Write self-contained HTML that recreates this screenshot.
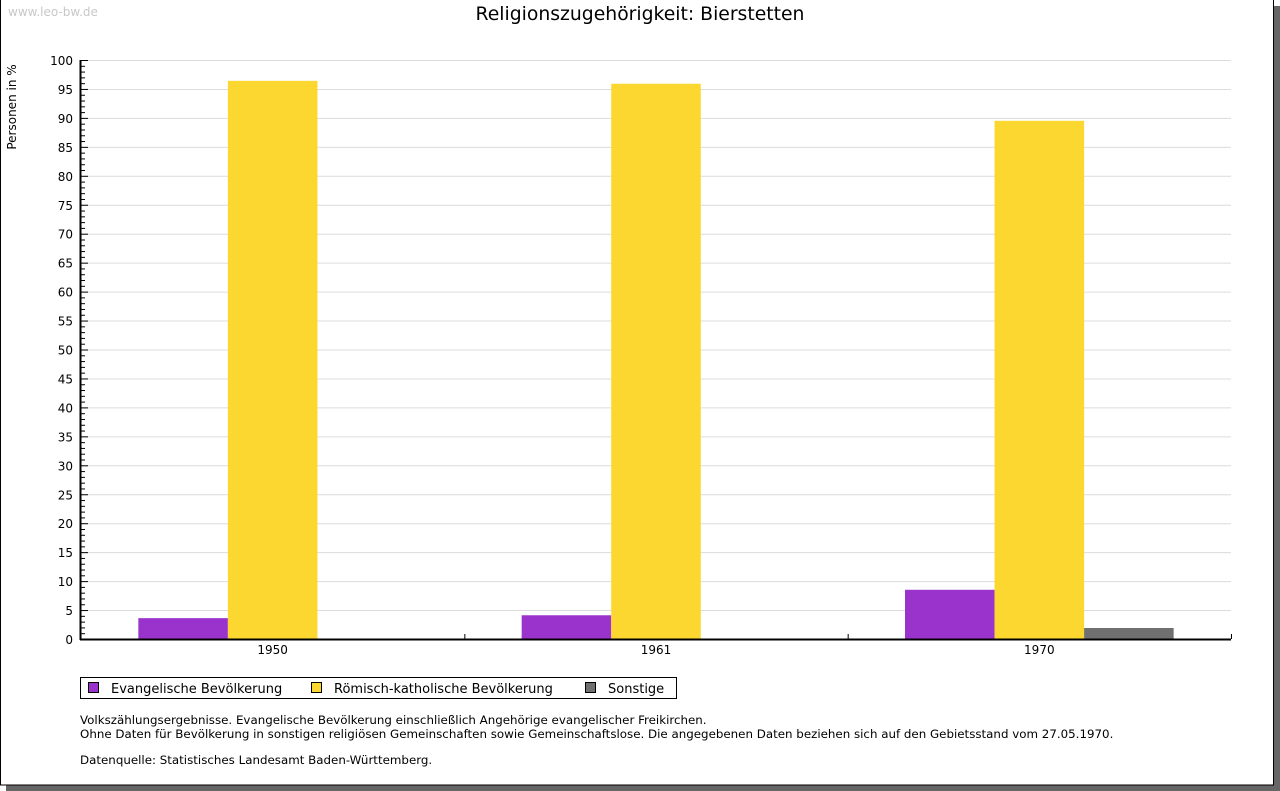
<!DOCTYPE html>
<html><head><meta charset="utf-8"><style>
body{margin:0;background:#fff;font-family:"Liberation Sans","DejaVu Sans",sans-serif;}
#wrap{position:relative;width:1280px;height:791px;overflow:hidden;background:#fff}
</style></head><body>
<div id="wrap">
<svg id="svg" width="1280" height="791" xmlns="http://www.w3.org/2000/svg" font-family="DejaVu Sans, Liberation Sans, sans-serif">
<rect x="6" y="6" width="1274" height="785" fill="#666"/>
<rect x="0.5" y="-1" width="1273" height="786" fill="#fff" stroke="#000"/>
<text x="8" y="16" font-size="12" fill="#c8c8c8">www.leo-bw.de</text>
<text x="640" y="20" font-size="18.8" text-anchor="middle" fill="#000">Religionszugehörigkeit: Bierstetten</text>
<text transform="translate(16,107) rotate(-90)" font-size="12" text-anchor="middle">Personen in %</text>
<g id="grid"></g><g id="bars"></g><g id="axes"></g>
<g>
<rect x="80.5" y="677.5" width="596" height="21" fill="#fff" stroke="#000"/>
<rect x="88.5" y="682.5" width="10" height="10" fill="#9933cc" stroke="#000"/>
<text x="111" y="693" font-size="13">Evangelische Bevölkerung</text>
<rect x="311.5" y="682.5" width="10" height="10" fill="#fcd72f" stroke="#000"/>
<text x="334" y="693" font-size="13">Römisch-katholische Bevölkerung</text>
<rect x="585.5" y="682.5" width="10" height="10" fill="#707070" stroke="#000"/>
<text x="608" y="693" font-size="13">Sonstige</text>
</g>
<g font-size="11.85">
<text x="80" y="724">Volkszählungsergebnisse. Evangelische Bevölkerung einschließlich Angehörige evangelischer Freikirchen.</text>
<text x="80" y="738">Ohne Daten für Bevölkerung in sonstigen religiösen Gemeinschaften sowie Gemeinschaftslose. Die angegebenen Daten beziehen sich auf den Gebietsstand vom 27.05.1970.</text>
<text x="80" y="764">Datenquelle: Statistisches Landesamt Baden-Württemberg.</text>
</g>
</svg>
</div>
<script>
const categories=["1950","1961","1970"];
const evangelisch=[3.6,4.1,8.5];
const katholisch=[96.4,95.9,89.5];
const sonstige=[null,null,1.9];
const yTicks=[0,5,10,15,20,25,30,35,40,45,50,55,60,65,70,75,80,85,90,95,100];
const NS="http://www.w3.org/2000/svg";
const X0=81,X1=1231,Y0=639,Y1=60;
const y=v=>Y0-(v/100)*(Y0-Y1);
const gw=(X1-X0)/categories.length;
const bw=gw*0.2336, pad=(gw-3*bw)/2;
function mk(t,a,p){const e=document.createElementNS(NS,t);for(const k in a)e.setAttribute(k,a[k]);p.appendChild(e);return e;}
const grid=document.getElementById('grid'),bars=document.getElementById('bars'),axes=document.getElementById('axes');
yTicks.forEach(v=>{
  if(v>0){const l=mk('line',{x1:X0,x2:X1,y1:y(v)+0.5,y2:y(v)+0.5,stroke:'#dcdcdc'},grid);
  
  }
  const t=mk('text',{x:73,y:y(v)+5,'font-size':12,'text-anchor':'end'},axes);t.textContent=v;
  
  
  mk('line',{x1:X0,x2:X0+7,y1:y(v)+0.5,y2:y(v)+0.5,stroke:'#000'},axes);
});
for(let v=0;v<100;v++){if(v%5)mk('line',{x1:X0,x2:X0+4,y1:y(v)+0.5,y2:y(v)+0.5,stroke:'#000'},axes);}
const series=[[evangelisch,'#9933cc','evangelisch'],[katholisch,'#fcd72f','katholisch'],[sonstige,'#707070','sonstige']];
categories.forEach((c,i)=>{
  const gx=X0+i*gw;
  series.forEach((s,j)=>{
    const v=s[0][i];if(v==null)return;
    const r=mk('rect',{x:gx+pad+j*bw,y:y(v),width:bw,height:Y0-y(v),fill:s[1]},bars);
    
    
  });
  const t=mk('text',{x:gx+gw/2,y:654,'font-size':12,'text-anchor':'middle'},axes);t.textContent=c;
  
  
  mk('line',{x1:gx+gw+0.5,x2:gx+gw+0.5,y1:Y0-5,y2:Y0,stroke:'#000'},axes);
});
const ya=mk('line',{x1:X0-0.5,x2:X0-0.5,y1:Y1,y2:Y0+1,stroke:'#000','stroke-width':2},axes);


const xa=mk('line',{x1:X0-1,x2:X1,y1:Y0+0.5,y2:Y0+0.5,stroke:'#000','stroke-width':2},axes);


</script>
</body></html>
